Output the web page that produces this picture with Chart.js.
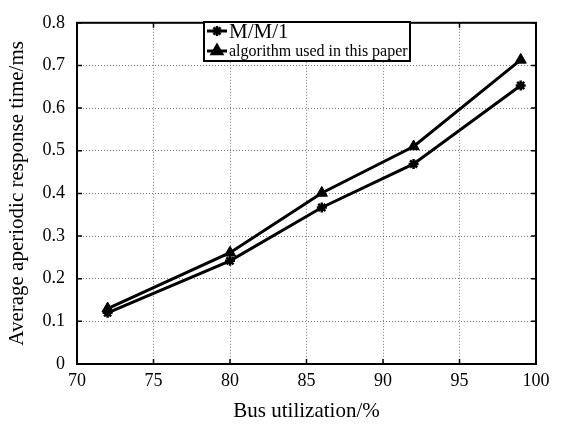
<!DOCTYPE html>
<html><head><meta charset="utf-8">
<script src="https://cdn.jsdelivr.net/npm/chart.js@4/dist/chart.umd.min.js"></script>
<style>html,body{margin:0;padding:0;background:#fff}#wrap{width:566px;height:424px}</style>
</head><body><div id="wrap"><canvas id="c" width="566" height="424"></canvas></div>
<script>
const busUtil = [72, 80, 86, 92, 99];
const mm1 = [0.12, 0.242, 0.367, 0.469, 0.653];
const algo = [0.13, 0.261, 0.401, 0.51, 0.713];
const seriesNames = ['M/M/1', 'algorithm used in this paper'];
const xTitle = 'Bus utilization/%';
const yTitle = 'Average aperiodic response time/ms';

const FONT = "'Liberation Serif', 'Times New Roman', serif";

const boxTicks = {
  id: 'boxTicks',
  afterDatasetsDraw(chart) {
    const {ctx, chartArea: a, scales} = chart;
    ctx.save();
    ctx.strokeStyle = '#000';
    ctx.lineWidth = 1.5;
    const L = 5;
    scales.x.ticks.forEach(t => {
      const px = scales.x.getPixelForValue(t.value);
      ctx.beginPath();
      ctx.moveTo(px, a.bottom); ctx.lineTo(px, a.bottom - L);
      ctx.moveTo(px, a.top); ctx.lineTo(px, a.top + L);
      ctx.stroke();
    });
    scales.y.ticks.forEach(t => {
      const py = scales.y.getPixelForValue(t.value);
      ctx.beginPath();
      ctx.moveTo(a.left, py); ctx.lineTo(a.left + L, py);
      ctx.moveTo(a.right, py); ctx.lineTo(a.right - L, py);
      ctx.stroke();
    });
    ctx.lineWidth = 2;
    ctx.strokeRect(a.left, a.top, a.right - a.left, a.bottom - a.top);
    ctx.restore();
  },
  afterDraw(chart) {
    const {ctx} = chart;
    ctx.save();
    const bx = 204, by = 22, bw = 206, bh = 39;
    ctx.fillStyle = '#fff';
    ctx.fillRect(bx, by, bw, bh);
    ctx.strokeStyle = '#000';
    ctx.lineWidth = 2;
    ctx.strokeRect(bx, by, bw, bh);
    const rows = [
      {y: 31, size: 21, style: 'star'},
      {y: 51, size: 16, style: 'triangle'}
    ];
    rows.forEach((r, i) => {
      ctx.strokeStyle = '#000';
      ctx.lineWidth = 3;
      ctx.beginPath(); ctx.moveTo(207, r.y); ctx.lineTo(227, r.y); ctx.stroke();
      ctx.fillStyle = '#000';
      ctx.lineWidth = 2.5;
      Chart.helpers.drawPoint(ctx, {pointStyle: r.style, radius: r.style === 'star' ? 5 : 6, rotation: 0, borderWidth: 2.5}, 217, r.y);
      if (r.style === 'triangle') ctx.fill();
      ctx.fillStyle = '#000';
      ctx.font = r.size + 'px ' + FONT;
      ctx.textBaseline = 'middle';
      ctx.textAlign = 'left';
      ctx.fillText(seriesNames[i], 229, r.y + 1);
    });
    ctx.restore();
  }
};

new Chart(document.getElementById('c'), {
  type: 'line',
  data: {
    datasets: [
      {label: seriesNames[0], data: busUtil.map((x, i) => ({x, y: mm1[i]})),
       borderColor: '#000', backgroundColor: '#000', borderWidth: 3,
       pointStyle: 'star', pointRadius: 5, pointBorderWidth: 2.5, pointBorderColor: '#000'},
      {label: seriesNames[1], data: busUtil.map((x, i) => ({x, y: algo[i]})),
       borderColor: '#000', backgroundColor: '#000', borderWidth: 3,
       pointStyle: 'triangle', pointRadius: 6.5, pointBorderWidth: 1, pointBorderColor: '#000'}
    ]
  },
  options: {
    responsive: false,
    animation: false,
    layout: {padding: {top: 15, right: 30, left: 0, bottom: 0}},
    plugins: {legend: {display: false}, tooltip: {enabled: false}},
    scales: {
      x: {
        type: 'linear', min: 70, max: 100,
        ticks: {stepSize: 5, color: '#000', font: {family: FONT, size: 18}, padding: 6, maxRotation: 0},
        grid: {color: '#777', lineWidth: 1, drawTicks: false},
        border: {display: false, dash: [1, 2]},
        title: {display: true, text: xTitle, color: '#000', font: {family: FONT, size: 21}, padding: {top: 0, bottom: 0}},
        afterFit: s => { s.height = 60; }
      },
      y: {
        min: 0, max: 0.8,
        ticks: {stepSize: 0.1, color: '#000', font: {family: FONT, size: 18}, padding: 12,
                callback: v => (Math.round(v * 10) / 10).toString()},
        grid: {color: '#777', lineWidth: 1, drawTicks: false},
        border: {display: false, dash: [1, 2]},
        title: {display: true, text: yTitle, color: '#000', font: {family: FONT, size: 21}, padding: {top: 5, bottom: 0}},
        afterFit: s => { s.width = 77; }
      }
    }
  },
  plugins: [boxTicks]
});
</script></body></html>
